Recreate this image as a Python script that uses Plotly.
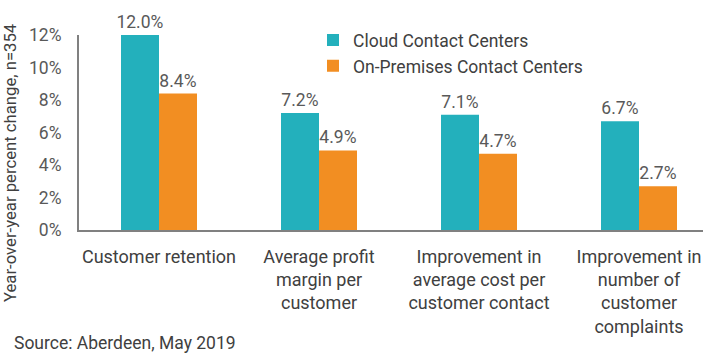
import plotly.graph_objects as go

categories = ["Customer retention",
              "Average profit<br>margin per<br>customer",
              "Improvement in<br>average cost per<br>customer contact",
              "Improvement in<br>number of<br>customer<br>complaints"]
cloud = [12.0, 7.2, 7.1, 6.7]
onprem = [8.4, 4.9, 4.7, 2.7]
series_names = ["Cloud Contact Centers", "On-Premises Contact Centers"]
y_ticks = [0, 2, 4, 6, 8, 10, 12]
y_ticklabels = ["0%", "2%", "4%", "6%", "8%", "10%", "12%"]

FONT = "Roboto, Open Sans, sans-serif"
TEAL = "#23B0BC"
ORANGE = "#F28E22"
x = list(range(len(categories)))

fig = go.Figure()
for name, vals, col in [(series_names[0], cloud, TEAL), (series_names[1], onprem, ORANGE)]:
    fig.add_trace(go.Bar(
        x=x, y=vals, name=name, marker=dict(color=col, line=dict(width=0)),
        text=[f"{v:.1f}%" for v in vals], textposition="outside",
        textfont=dict(family=FONT, size=17.5, color="#595959"),
        cliponaxis=False, constraintext="none",
    ))

fig.update_layout(
    width=706, height=354,
    margin=dict(l=79, r=3, t=35, b=124),
    paper_bgcolor="white", plot_bgcolor="white",
    barmode="group", bargap=0.525, bargroupgap=0,
    font=dict(family=FONT, color="#404040"),
    showlegend=True,
    legend=dict(x=0.375, y=1.066, xanchor="left", yanchor="top",
                font=dict(family=FONT, size=17.5, color="#404040"),
                bgcolor="rgba(0,0,0,0)", itemwidth=30, tracegroupgap=0),
    xaxis=dict(tickmode="array", tickvals=x, ticktext=categories,
               range=[-0.5, 3.4], showline=True, linecolor="#808080", linewidth=2,
               ticks="", tickfont=dict(family=FONT, size=18, color="#404040"),
               showgrid=False, zeroline=False, ticklabelstandoff=9),
    yaxis=dict(range=[0, 12], tickvals=y_ticks, ticktext=y_ticklabels,
               showline=True, linecolor="#808080", linewidth=2,
               ticks="", tickfont=dict(family=FONT, size=17.5, color="#595959"),
               showgrid=False, zeroline=False, ticklabelstandoff=12),
    annotations=[
        dict(text="Year-over-year percent change, n=354", textangle=-90,
             showarrow=False, xref="paper", yref="paper",
             font=dict(family=FONT, size=16.7, color="#404040")),
        dict(text="Source: Aberdeen, May 2019", xref="paper", yref="paper",
             showarrow=False, font=dict(family=FONT, size=17.5, color="#404040")),
    ],
)
W = 706 - 79 - 3
H = 354 - 35 - 124
fig.layout.annotations[0].update(x=(10 - 79) / W, y=(230 - 163) / H, xanchor="center", yanchor="middle")
fig.layout.annotations[1].update(x=(12 - 79) / W, y=(230 - 343) / H, xanchor="left", yanchor="middle")

fig.write_html("out.html")
